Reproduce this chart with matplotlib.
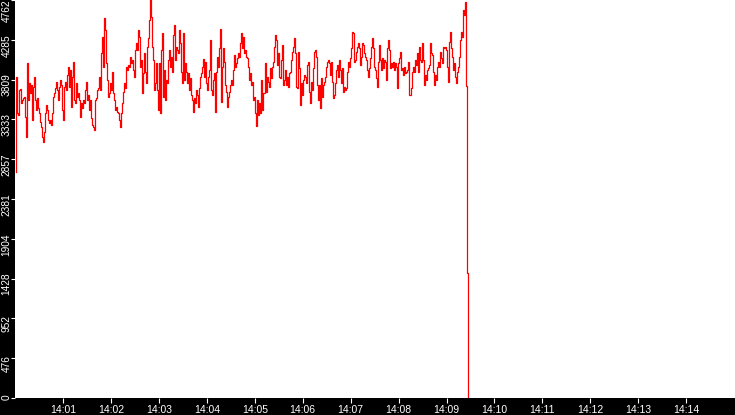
import matplotlib
matplotlib.use("Agg")
import matplotlib.pyplot as plt
import numpy as np

# ---------------- data ----------------
# samples every ~1.25 s starting just after 14:00:00
sample_start_s = 1.1
sample_step_s = 1.252

values_a = [2704, 3841, 3410, 3386, 3685, 3697, 3530, 3566, 3589, 3601, 3362, 3123, 4008, 3566,
            3769, 3649, 3745, 3326, 3721, 3841, 3566, 3446, 3589, 3470, 3410, 3302, 3242, 3123,
            3063, 3183, 3410, 3506, 3446, 3326, 3290, 3326, 3266, 3410, 3601, 3649, 3709, 3781,
            3685, 3566, 3721, 3805, 3745, 3446, 3326, 3721, 3781, 3685, 3865, 3960, 3721, 3924,
            3482, 3841, 4020, 3566, 3530, 3769, 3601, 3649, 3566, 3362, 3530, 3470, 3566, 3530,
            3685, 3781, 3566, 3625, 3446, 3566, 3350, 3266, 3242]
values_b = [3207, 3566, 3589, 3685, 3709, 3841, 3685, 4128, 4319, 3960, 4547, 4403, 4008, 3805,
            3601, 3649, 3769, 3685, 3901, 3649, 3566, 3446, 3482, 3422, 3410, 3326, 3242, 3410,
            3530, 3661, 3769, 3709, 3960, 3924, 3984, 3960, 4080, 4008, 4044, 3924, 3841, 4164,
            4248, 4164, 4403, 4319, 3960, 4044, 3649, 3889, 4128, 3901, 3769, 4200, 4307, 4523,
            4762, 4559, 4200, 4044, 3685, 3769, 4008, 3685, 3446, 4008, 3410, 4164, 4367, 3601,
            3924, 3566, 3805, 3769, 4044, 4164, 3960, 4080]
values_c = [3901, 4343, 4463, 4044, 4200, 4164, 4128, 4403, 4248, 3901, 3769, 4367, 3805, 4008,
            3901, 3769, 3889, 3685, 3829, 3625, 3566, 3422, 3589, 3530, 3685, 3625, 3482, 3709,
            3841, 3889, 3960, 4056, 3841, 4020, 3769, 3685, 3841, 3924, 4283, 3685, 3625, 3805,
            3889, 3422, 3901, 4080, 3960, 4188, 4415, 3542, 3960, 4188, 4020, 3745, 3661, 3482,
            3601, 3661, 3745, 3805, 3745, 3924, 4104, 3960, 4008, 4068, 4128, 4080, 4248, 4367,
            4188, 4319, 4128, 4164, 4080, 4068, 3960, 3805]
values_d = [3889, 3745, 3781, 3566, 3601, 3410, 3254, 3566, 3386, 3530, 3410, 3805, 3446, 3649,
            4008, 3661, 3841, 3781, 3721, 3948, 3829, 3960, 4020, 4200, 4343, 4283, 3984, 4128,
            3841, 3829, 4044, 4224, 3745, 3805, 3924, 3745, 3841, 3721, 3889, 3901, 4044, 4140,
            4200, 4307, 4128, 3721, 3709, 4140, 3948, 3506, 3769, 3625, 3805, 3865, 3841, 3769,
            3984, 4020, 3661, 3530, 3781, 3685, 3948, 4140, 4164, 4080, 3745, 3566, 3745, 3470,
            3829, 3601, 3745, 3781, 3841, 3960, 4020, 4044]
values_e = [4008, 3865, 4020, 3781, 3589, 3625, 3769, 3924, 3984, 3841, 4044, 3924, 3769, 3948,
            3661, 3721, 3685, 3709, 3901, 4020, 3960, 4068, 4188, 4379, 4367, 4020, 4044, 4140,
            4200, 4248, 4188, 3984, 4080, 4248, 4224, 4128, 4080, 4044, 3924, 3841, 3948, 4068,
            4200, 4307, 4188, 3960, 3924, 3829, 3721, 4020, 4224, 4044, 3924, 4068, 3948, 4044,
            4020, 3805, 4188, 4283, 4164, 3948, 4008, 3960, 4020, 3924, 4008, 3960, 3709, 4008,
            4068, 4140, 3924, 3948, 3865, 3960, 3889, 3901]
values_f = [3924, 4020, 3625, 3625, 3709, 3901, 3960, 3901, 4044, 3984, 4128, 3901, 4200, 4044,
            4020, 4248, 4044, 3745, 3865, 3805, 3924, 3948, 3984, 4248, 4128, 4104, 3901, 3745,
            3865, 3805, 3960, 4020, 3960, 4140, 4068, 4008, 4200, 4188, 4200, 4164, 3960, 3781,
            4259, 4379, 4188, 4080, 3924, 4008, 3841, 3769, 3901, 3960, 4080, 4283, 4379, 4319,
            4642, 4583, 4738, 3733, 1496, 0]

y_max = 4762
y_tick_labels = ["0", "476", "952", "1428", "1904", "2381", "2857", "3333", "3809", "4285", "4762"]
x_tick_minutes = list(range(1, 15))
x_tick_labels = ["14:%02d" % m for m in x_tick_minutes]

# ---------------- figure ----------------
W, H = 735, 415
fig = plt.figure(figsize=(W / 100, H / 100), dpi=100, facecolor="black")
ax_left, ax_bottom, ax_w, ax_h = 15, 17, 720, 398
ax = fig.add_axes([ax_left / W, ax_bottom / H, ax_w / W, ax_h / H])
ax.set_facecolor("white")
for s in ax.spines.values():
    s.set_visible(False)

values = np.array(values_a + values_b + values_c + values_d + values_e + values_f, dtype=float)
t = sample_start_s + sample_step_s * np.arange(len(values))
ax.plot(t, values, color="#ff0000", lw=0.9, drawstyle="steps-mid", antialiased=True)

ax.set_xlim(0, 901)
ax.set_ylim(0, y_max)

# x ticks
ax.set_xticks([60 * m for m in x_tick_minutes])
ax.set_xticklabels(x_tick_labels, fontsize=7.5, family="Liberation Sans", color="white")
ax.tick_params(axis="x", colors="white", length=3.8, width=0.8, direction="out", pad=1.5)

# y ticks (labels drawn manually, rotated)
y_ticks = [y_max * i / 10 for i in range(len(y_tick_labels))]
ax.set_yticks(y_ticks)
ax.set_yticklabels([])
ax.tick_params(axis="y", colors="white", length=3.2, width=0.8, direction="out")

for i, (v, lab) in enumerate(zip(y_ticks, y_tick_labels)):
    ypix = ax_bottom + v / y_max * ax_h  # from bottom
    if i == len(y_ticks) - 1:
        yy, va = H, "top"
    elif i == 0:
        yy, va = H - 400, "bottom"
    else:
        yy, va = ypix - 5.5, "center"
    fig.text(6.5 / W, yy / H, lab, rotation=90, ha="center", va=va, color="white",
             fontsize=7.3, family="Liberation Sans")

fig.savefig("out.png", dpi=100, facecolor="black")
